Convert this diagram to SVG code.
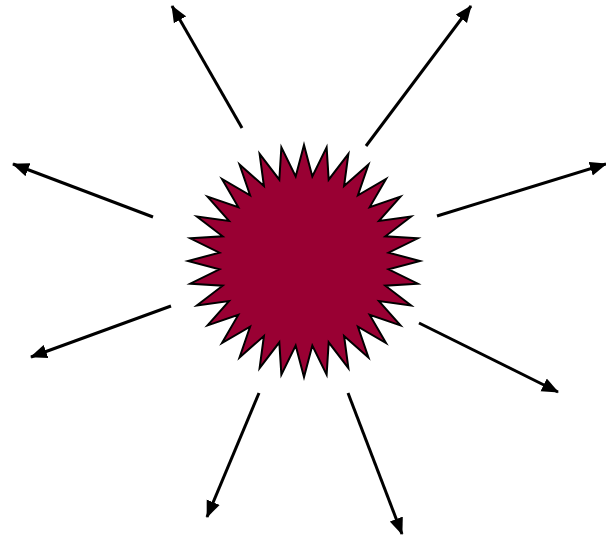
<svg xmlns="http://www.w3.org/2000/svg" width="606" height="537" viewBox="0 0 606 537">
<defs>
<style>
.conn{stroke:#000;stroke-width:3;fill:none;marker-end:url(#ah)}
.star{fill:#990033;stroke:#000;stroke-width:2;stroke-linejoin:miter}
</style>
<marker id="ah" markerUnits="userSpaceOnUse" markerWidth="17" markerHeight="15" refX="16" refY="7" orient="auto" viewBox="0 0 17 14">
<path d="M0,0 L17,7 L0,14 z" fill="#000"/>
</marker>
</defs>
<rect width="606" height="537" fill="#fff"/>
<g id="burst">
<polygon class="star" points="304,145 312.33,176.41 326.63,147.23 328.67,179.66 348.39,153.83 344.07,186.04 368.45,164.55 357.92,195.29 386.02,178.98 369.71,207.08 400.45,196.55 378.96,220.93 411.17,216.61 385.34,236.33 417.77,238.37 388.59,252.67 420,261 388.59,269.33 417.77,283.63 385.34,285.67 411.17,305.39 378.96,301.07 400.45,325.45 369.71,314.92 386.02,343.02 357.92,326.71 368.45,357.45 344.07,335.96 348.39,368.17 328.67,342.34 326.63,374.77 312.33,345.59 304,377 295.67,345.59 281.37,374.77 279.33,342.34 259.61,368.17 263.93,335.96 239.55,357.45 250.08,326.71 221.98,343.02 238.29,314.92 207.55,325.45 229.04,301.07 196.83,305.39 222.66,285.67 190.23,283.63 219.41,269.33 188,261 219.41,252.67 190.23,238.37 222.66,236.33 196.83,216.61 229.04,220.93 207.55,196.55 238.29,207.08 221.98,178.98 250.08,195.29 239.55,164.55 263.93,186.04 259.61,153.83 279.33,179.66 281.37,147.23 295.67,176.41"/>
</g>
<g id="connectors">
<line class="conn" x1="242" y1="128" x2="172" y2="6"/>
<line class="conn" x1="366" y1="146" x2="471" y2="6"/>
<line class="conn" x1="437" y1="216" x2="606" y2="164"/>
<line class="conn" x1="153" y1="217" x2="13" y2="164"/>
<line class="conn" x1="171" y1="306" x2="31" y2="357"/>
<line class="conn" x1="419" y1="323" x2="558" y2="392"/>
<line class="conn" x1="259" y1="393" x2="207" y2="517"/>
<line class="conn" x1="348" y1="393" x2="402" y2="534"/>
</g>
</svg>
